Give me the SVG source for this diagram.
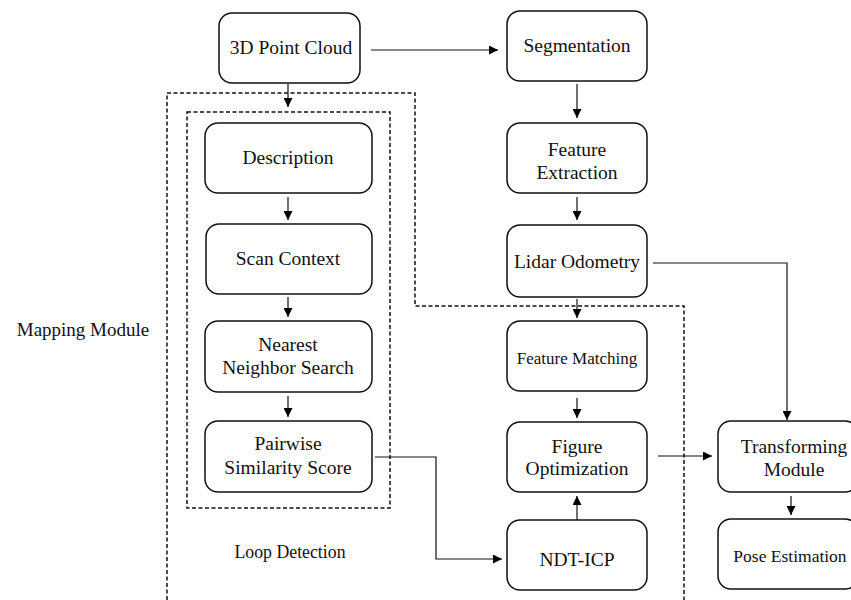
<svg xmlns="http://www.w3.org/2000/svg" width="851" height="600" viewBox="0 0 851 600">
  <defs>
    <marker id="arrow" viewBox="0 0 10 10" refX="10" refY="5" markerWidth="9" markerHeight="9" markerUnits="userSpaceOnUse" orient="auto">
      <path d="M0,0 L10,5 L0,10 Z" fill="#000"/>
    </marker>
    <style>
      .box { fill: #fff; stroke: #111; stroke-width: 1.5; }
      .label { font-size: 19.5px; fill: #111; text-anchor: middle; }
      .mid { font-size: 19px; }
      .small { font-size: 17px; }
      .loop { font-size: 17.8px; }
      .pose { font-size: 17.5px; }
      .dash { fill: none; stroke: #111; stroke-width: 1.5; stroke-dasharray: 4 2.5; }
      .conn { fill: none; stroke: #111; stroke-width: 1.2; marker-end: url(#arrow); }
    </style>
  </defs>
  <rect width="851" height="600" fill="#fff"/>

  <g font-family="Liberation Serif, Times New Roman, serif">
  <!-- module outlines -->
  <g id="mapping-module">
    <path class="dash" d="M167,600 V93 H415 V306 H684 V600"/>
    <text class="label mid" x="83" y="336">Mapping Module</text>
  </g>
  <g id="loop-detection">
    <rect class="dash" x="187" y="112" width="203" height="396"/>
    <text class="label loop" x="290" y="558">Loop Detection</text>
  </g>

  <!-- connectors -->
  <g id="connectors">
    <path class="conn" d="M371,50 H498"/>
    <path class="conn" d="M288,84 V107"/>
    <path class="conn" d="M288,197 V220"/>
    <path class="conn" d="M288,297 V317"/>
    <path class="conn" d="M288,396 V417"/>
    <path class="conn" d="M577,84 V118"/>
    <path class="conn" d="M577,197 V220"/>
    <path class="conn" d="M577,299 V318"/>
    <path class="conn" d="M577,398 V418"/>
    <path class="conn" d="M577,520 V496"/>
    <path class="conn" d="M653,263 H787 V420"/>
    <path class="conn" d="M658,456 H712"/>
    <path class="conn" d="M375,457 H436 V559 H502"/>
    <path class="conn" d="M791,496 V515"/>
  </g>

  <!-- nodes -->
  <g id="point-cloud">
    <rect class="box" x="219" y="13" width="141" height="70" rx="13"/>
    <text class="label" x="291" y="54">3D Point Cloud</text>
  </g>
  <g id="segmentation">
    <rect class="box" x="507" y="11" width="140" height="70" rx="13"/>
    <text class="label" x="577" y="52">Segmentation</text>
  </g>
  <g id="description">
    <rect class="box" x="205" y="123" width="167" height="70" rx="13"/>
    <text class="label" x="288" y="164">Description</text>
  </g>
  <g id="feature-extraction">
    <rect class="box" x="507" y="123" width="140" height="70" rx="13"/>
    <text class="label" x="577" y="156">Feature</text>
    <text class="label" x="577" y="179">Extraction</text>
  </g>
  <g id="scan-context">
    <rect class="box" x="206" y="224" width="166" height="70" rx="13"/>
    <text class="label" x="288" y="265">Scan Context</text>
  </g>
  <g id="lidar-odometry">
    <rect class="box" x="507" y="225" width="140" height="72" rx="13"/>
    <text class="label" x="577" y="268">Lidar Odometry</text>
  </g>
  <g id="nearest-neighbor">
    <rect class="box" x="205" y="321" width="167" height="71" rx="13"/>
    <text class="label" x="288" y="351">Nearest</text>
    <text class="label" x="288" y="374">Neighbor Search</text>
  </g>
  <g id="feature-matching">
    <rect class="box" x="507" y="321" width="140" height="70" rx="13"/>
    <text class="label small" x="577" y="364">Feature Matching</text>
  </g>
  <g id="pairwise-similarity">
    <rect class="box" x="205" y="421" width="167" height="71" rx="13"/>
    <text class="label" x="288" y="450">Pairwise</text>
    <text class="label" x="288" y="474">Similarity Score</text>
  </g>
  <g id="figure-optimization">
    <rect class="box" x="507" y="422" width="140" height="70" rx="13"/>
    <text class="label" x="577" y="453">Figure</text>
    <text class="label" x="577" y="475">Optimization</text>
  </g>
  <g id="transforming-module">
    <rect class="box" x="718" y="421" width="140" height="71" rx="13"/>
    <text class="label" x="794" y="453">Transforming</text>
    <text class="label" x="794" y="476">Module</text>
  </g>
  <g id="ndt-icp">
    <rect class="box" x="507" y="520" width="140" height="70" rx="13"/>
    <text class="label" x="577" y="566">NDT-ICP</text>
  </g>
  <g id="pose-estimation">
    <rect class="box" x="718" y="519" width="140" height="70" rx="13"/>
    <text class="label pose" x="790" y="562">Pose Estimation</text>
  </g>
  </g>
</svg>
